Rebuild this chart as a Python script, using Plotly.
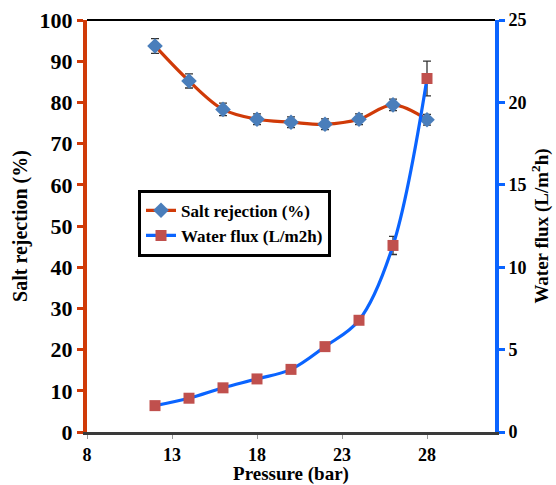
import plotly.graph_objects as go

pressure = [12, 14, 16, 18, 20, 22, 24, 26, 28]
salt_rejection = [93.7, 85.2, 78.3, 75.9, 75.2, 74.7, 75.9, 79.4, 75.8]
salt_err = [1.8, 1.7, 1.5, 1.3, 1.3, 1.3, 1.3, 1.4, 1.3]
water_flux = [1.6, 2.05, 2.68, 3.22, 3.8, 5.18, 6.78, 11.32, 21.45]
flux_err = [0.08, 0.08, 0.08, 0.08, 0.08, 0.1, 0.2, 0.55, 1.05]

x_ticks = [8, 13, 18, 23, 28]
font_family = "Liberation Serif, Times New Roman, serif"
red = "#D03A08"
blue = "#0A64FF"

fig = go.Figure()
fig.add_trace(go.Scatter(
    x=pressure, y=salt_rejection, name="<b>Salt rejection (%)</b>",
    mode="lines+markers", line=dict(color=red, width=3.2, shape="spline", smoothing=1),
    marker=dict(symbol="diamond", size=12, color="#4A7EBB"),
    error_y=dict(type="data", array=salt_err, color="#333333", thickness=1.3, width=4),
))
fig.add_trace(go.Scatter(
    x=pressure, y=water_flux, name="<b>Water flux (L/m2h)</b>", yaxis="y2",
    mode="lines+markers", line=dict(color=blue, width=3.2, shape="spline", smoothing=1),
    marker=dict(symbol="square", size=11, color="#C0504D"),
    error_y=dict(type="data", array=flux_err, color="#333333", thickness=1.3, width=4),
))

fig.update_layout(
    width=556, height=485,
    margin=dict(l=87, r=61, t=20, b=53),
    paper_bgcolor="white", plot_bgcolor="white",
    font=dict(family=font_family, color="black"),
    showlegend=True,
    legend=dict(
        x=0.125, y=0.588, xanchor="left", yanchor="top",
        bordercolor="black", borderwidth=3, bgcolor="white",
        font=dict(size=17, family=font_family, color="black"),
        tracegroupgap=0, itemwidth=30,
    ),
    shapes=[dict(type="line", xref="paper", yref="paper", x0=0, x1=1, y0=1, y1=1,
                 line=dict(color="black", width=2), layer="above")],
    xaxis=dict(
        range=[8, 32], tickvals=x_ticks, ticktext=[f"<b>{v}</b>" for v in x_ticks],
        showgrid=False, zeroline=False, automargin=False,
        showline=True, linecolor="#3a3a3a", linewidth=3,
        ticks="outside", ticklen=4, tickwidth=1, tickcolor="#999999",
        tickfont=dict(size=18, family=font_family, color="black"),
        title=dict(text="<b>Pressure (bar)</b>", font=dict(size=19, family=font_family), standoff=1),
    ),
    yaxis=dict(
        range=[0, 100], tickvals=list(range(0, 101, 10)), ticktext=[f"<b>{v}</b>" for v in range(0, 101, 10)],
        showgrid=False, zeroline=False, automargin=False,
        showline=True, linecolor=red, linewidth=4,
        ticks="outside", ticklen=6, tickwidth=2.5, tickcolor=red,
        tickfont=dict(size=22, family=font_family),
        title=dict(text="<b>Salt rejection (%)</b>", font=dict(size=20, family=font_family), standoff=8),
    ),
    yaxis2=dict(
        range=[0, 25], tickvals=list(range(0, 26, 5)), ticktext=[f"<b>{v}</b>" for v in range(0, 26, 5)],
        overlaying="y", side="right",
        showgrid=False, zeroline=False, automargin=False,
        showline=True, linecolor=blue, linewidth=4,
        ticks="outside", ticklen=6, tickwidth=2.5, tickcolor=blue,
        tickfont=dict(size=18, family=font_family),
        title=dict(text="<b>Water flux (L/m<sup>2</sup>h)</b>", font=dict(size=19, family=font_family), standoff=10),
    ),
)

fig.write_html("out.html")
